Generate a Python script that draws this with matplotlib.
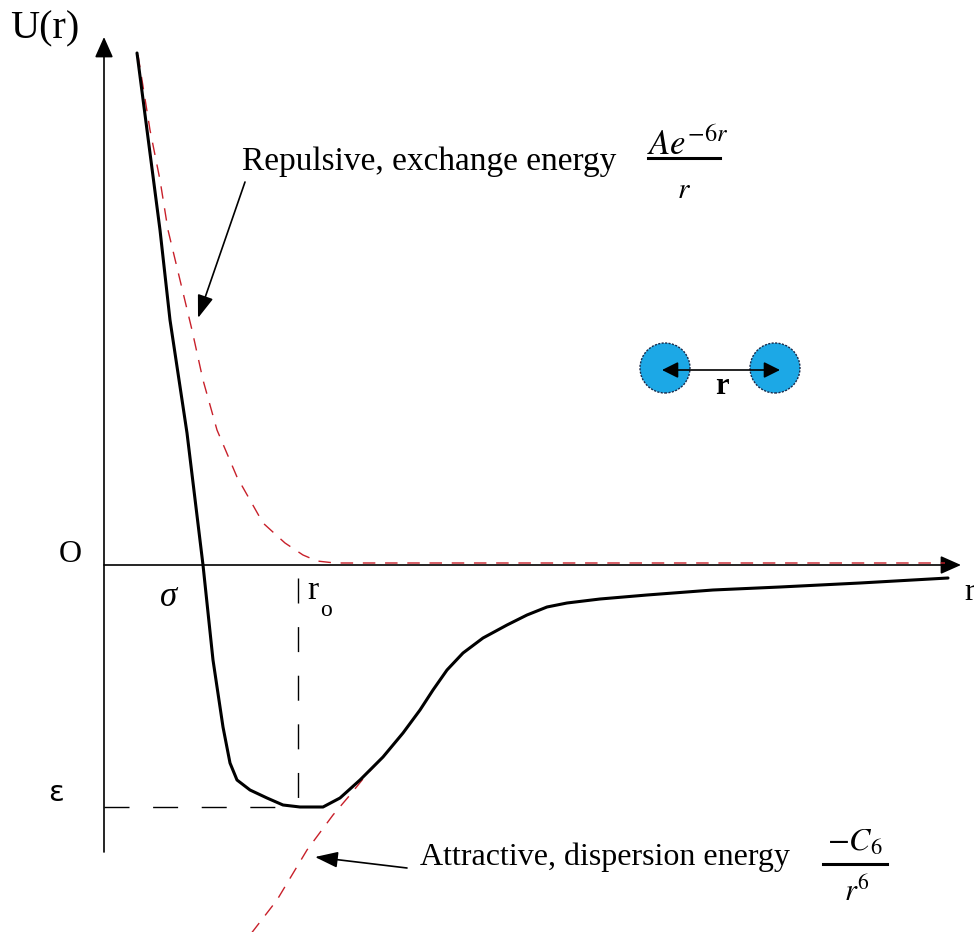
import matplotlib
matplotlib.use("Agg")
import matplotlib.pyplot as plt
from matplotlib.patches import Circle, FancyArrowPatch
from matplotlib.lines import Line2D

plt.rcParams["mathtext.fontset"] = "stix"
SERIF = ["Liberation Serif", "DejaVu Serif"]

# Total potential U(r) (solid black), in reduced units
r_total = [0.33, 0.43, 0.56, 0.66, 0.83, 0.99, 1.09, 1.19, 1.26, 1.33, 1.46, 1.63,
           1.79, 1.96, 2.19, 2.36, 2.56, 2.79, 2.99, 3.16, 3.29, 3.43, 3.59, 3.79,
           4.03, 4.23, 4.43, 4.63, 4.96, 5.43, 6.09, 6.76, 7.56, 8.44]
u_total = [5.12, 4.35, 3.35, 2.45, 1.32, 0.00, -0.95, -1.62, -1.98, -2.15, -2.25, -2.33,
           -2.40, -2.42, -2.42, -2.33, -2.15, -1.92, -1.68, -1.45, -1.25, -1.05, -0.88, -0.73,
           -0.60, -0.50, -0.42, -0.38, -0.34, -0.30, -0.25, -0.22, -0.18, -0.13]

# Repulsive (exchange) contribution
r_rep = [0.34, 0.46, 0.56, 0.64, 0.76, 0.88, 0.99, 1.13, 1.33, 1.59, 1.81, 1.99,
         2.13, 2.31, 3.50, 5.00, 6.50, 8.41]
u_rep = [5.10, 4.35, 3.85, 3.35, 2.85, 2.35, 1.85, 1.35, 0.88, 0.42, 0.22, 0.10,
         0.04, 0.02, 0.02, 0.02, 0.02, 0.02]

# Attractive (dispersion) contribution
r_att = [1.46, 1.73, 2.03, 2.29, 2.46, 2.63, 2.79, 2.99, 3.16, 3.29, 3.43, 3.59,
         3.79, 4.03, 4.23, 4.43, 4.63, 4.96, 5.43, 6.09, 6.76, 7.56, 8.44]
u_att = [-3.70, -3.35, -2.85, -2.50, -2.30, -2.09, -1.92, -1.68, -1.45, -1.25, -1.05, -0.88,
         -0.73, -0.60, -0.50, -0.42, -0.38, -0.34, -0.30, -0.25, -0.22, -0.18, -0.13]

# Equilibrium separation and well depth
r0 = 1.94
eps = -2.42

fig = plt.figure(figsize=(9.74, 9.32), dpi=100)
ax = fig.add_axes([0, 0, 1, 1])
ax.set_xlim(-1.04, 8.70)
ax.set_ylim(-3.67, 5.65)
ax.axis("off")

# coordinate axes with arrowheads
ax.add_patch(FancyArrowPatch((0, -2.87), (0, 5.28), arrowstyle="-|>,head_length=9,head_width=4",
                             mutation_scale=1.4, lw=1.2, color="black", shrinkA=0, shrinkB=0))
ax.add_patch(FancyArrowPatch((0, 0), (8.57, 0), arrowstyle="-|>,head_length=9,head_width=4",
                             mutation_scale=1.4, lw=1.2, color="black", shrinkA=0, shrinkB=0))

# component curves
ax.plot(r_rep, u_rep, color="#c8202a", lw=1.0, dashes=(9, 7))
ax.plot(r_att, u_att, color="#c8202a", lw=1.0, dashes=(9, 7))
# total curve
ax.plot(r_total, u_total, color="black", lw=2.2, solid_joinstyle="round", solid_capstyle="round")

# guides for r0 and epsilon
ax.plot([r0, r0], [-0.13, eps], color="black", lw=1.0, dashes=(18, 17))
ax.plot([0, r0], [eps, eps], color="black", lw=1.0, dashes=(18, 17))

# axis labels
ax.text(-0.94, 5.36, "U(r)", family=SERIF, fontsize=29, va="center", ha="left")
ax.text(-0.34, 0.11, "O", family=SERIF, fontsize=23, va="center", ha="center")
ax.text(8.60, -0.28, "r", family=SERIF, fontsize=23, va="center", ha="left")
ax.text(0.65, -0.32, "σ", family=SERIF, style="italic", fontsize=25, va="center", ha="center")
ax.text(2.03, -0.26, "r", family=SERIF, fontsize=24, va="center", ha="left")
ax.text(2.16, -0.46, "o", family=SERIF, fontsize=17, va="center", ha="left")
ax.text(-0.48, -2.28, "ε", family=["DejaVu Sans"], fontsize=21, va="center", ha="center")

# repulsive label and arrow
ax.text(1.38, 3.95, "Repulsive, exchange energy", family=SERIF, fontsize=24,
        va="baseline", ha="left")
ax.annotate("", xy=(0.94, 2.47), xytext=(1.41, 3.83),
            arrowprops=dict(arrowstyle="-|>,head_length=1.0,head_width=0.35",
                            mutation_scale=14, lw=1.2, color="black", shrinkA=0, shrinkB=0))
ax.text(5.84, 4.10, r"$Ae^{-6r}$", fontsize=25, va="baseline", ha="center")
ax.add_line(Line2D([5.44, 6.16], [4.07, 4.07], color="black", lw=2.2))
ax.text(5.80, 3.67, r"$r$", fontsize=21, va="baseline", ha="center")

# attractive label and arrow
ax.text(3.16, -3.00, "Attractive, dispersion energy", family=SERIF, fontsize=23,
        va="baseline", ha="left")
ax.annotate("", xy=(2.11, -2.92), xytext=(3.03, -3.03),
            arrowprops=dict(arrowstyle="-|>,head_length=1.0,head_width=0.35",
                            mutation_scale=14, lw=1.2, color="black", shrinkA=0, shrinkB=0))
ax.text(7.51, -2.86, r"$-C_6$", fontsize=23, va="baseline", ha="center")
ax.add_line(Line2D([7.19, 7.83], [-2.99, -2.99], color="black", lw=2.2))
ax.text(7.53, -3.36, r"$r^6$", fontsize=22, va="baseline", ha="center")

# two atoms separated by r
for cx in (5.61, 6.71):
    ax.add_patch(Circle((cx, 1.97), 0.25, facecolor="#1ca8e6", edgecolor="#1a2a4a",
                        lw=1.0, ls=(0, (1.5, 1)), zorder=3))
ax.add_patch(FancyArrowPatch((5.58, 1.95), (6.76, 1.95), arrowstyle="<|-|>,head_length=7,head_width=3.5",
                             mutation_scale=1.4, lw=1.2, color="black", shrinkA=0, shrinkB=0, zorder=4))
ax.text(6.18, 1.79, "r", family=SERIF, fontsize=22, fontweight="bold", va="center", ha="center")

fig.savefig("out.png", dpi=100, facecolor="white")
